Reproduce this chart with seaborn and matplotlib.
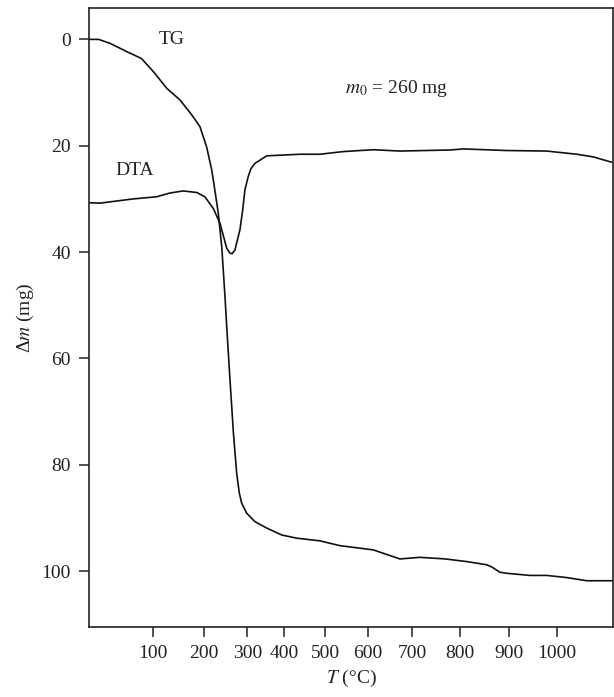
import numpy as np
import pandas as pd
import matplotlib
matplotlib.use("Agg")
import matplotlib.pyplot as plt
import seaborn as sns

# ---- data ----
tg_T = [0, 15, 33, 59, 82, 101, 127, 153, 176, 192, 206, 218, 225, 233, 241, 248.5,
        252, 260, 268, 275.5, 281.5, 287, 298.5, 321, 353, 394, 431, 487, 534, 612,
        672, 716, 769, 814, 855, 865, 882, 896, 944, 979, 1021, 1064, 1120]
tg_m = [0, 0, 0.75, 2.3, 3.6, 6.1, 9.2, 11.4, 14.2, 16.4, 20.2, 24.6, 28.3, 32.7, 39, 48.4,
        53.4, 64, 74.1, 81.6, 85.3, 87.2, 89.1, 90.7, 91.9, 93.2, 93.8, 94.3, 95.2, 96,
        97.7, 97.4, 97.7, 98.2, 98.8, 99.2, 100.2, 100.4, 100.8, 100.8, 101.2, 101.8, 101.8]

dta_T = [0, 17, 69, 107, 133, 159, 186, 202, 221.5, 237, 252.5, 260, 265, 271.5, 283, 289, 294.5,
         302.5, 310, 321, 353, 439, 487, 542, 612, 672, 779, 807, 896, 979, 1043, 1078, 1117]
dta_v = [30.7, 30.8, 30.0, 29.6, 28.9, 28.5, 28.8, 29.6, 31.8, 34.6, 39.3, 40.2, 40.3, 39.6, 35.8, 32.3, 28.3,
         25.8, 24.3, 23.3, 21.9, 21.6, 21.6, 21.1, 20.75, 21.0, 20.8, 20.6, 20.9, 21.0, 21.6, 22.1, 23.1]

x_ticks = [100, 200, 300, 400, 500, 600, 700, 800, 900, 1000]
y_ticks = [0, 20, 40, 60, 80, 100]

# non-uniform temperature axis calibration (temperature -> axis position)
scale_T = [0, 100, 200, 300, 400, 500, 600, 700, 800, 900, 1000, 1120]
scale_P = [0, 64, 115, 158.3, 195, 236.3, 279, 323.3, 371, 419.7, 467.7, 524]

# ---- style ----
sns.set_theme(style="white")
plt.rcParams["font.family"] = ["Liberation Serif", "DejaVu Serif"]
plt.rcParams["mathtext.fontset"] = "stix"
ink = "#222222"
plt.rcParams.update({
    "text.color": ink, "axes.labelcolor": ink,
    "xtick.color": ink, "ytick.color": ink,
    "axes.edgecolor": ink,
})

fig = plt.figure(figsize=(6.14, 6.97), dpi=100)
ax = fig.add_axes([89 / 614, 1 - 627 / 697, (613 - 89) / 614, (627 - 8) / 697])

tg = pd.DataFrame({"T": tg_T, "m": tg_m})
dta = pd.DataFrame({"T": dta_T, "v": dta_v})
sns.lineplot(data=tg, x="T", y="m", ax=ax, color="#111111", lw=1.2, estimator=None, sort=False)
sns.lineplot(data=dta, x="T", y="v", ax=ax, color="#111111", lw=1.2, estimator=None, sort=False)


def fwd(t):
    return np.interp(t, scale_T, scale_P)


def inv(p):
    return np.interp(p, scale_P, scale_T)


ax.set_xscale("function", functions=(fwd, inv))
ax.set_xlim(0, 1120)
ax.set_ylim(110.5, -5.9)
ax.set_xticks(x_ticks)
ax.set_xticklabels([str(v) for v in x_ticks])
ax.set_yticks(y_ticks)
ax.set_yticklabels([str(v) for v in y_ticks])
ax.minorticks_off()

for s in ax.spines.values():
    s.set_visible(True)
    s.set_linewidth(1.2)
    s.set_color(ink)

ax.tick_params(axis="both", which="major", direction="out", length=7, width=1.1,
               labelsize=14, pad=6, bottom=True, left=True, top=False, right=False)

ax.set_xlabel(r"$T$ (°C)", fontsize=14, labelpad=4)
ax.set_ylabel(r"Δ$m$ (mg)", fontsize=14, labelpad=4)

ax.text(137, 0, "TG", fontsize=14, ha="center", va="center")
ax.text(72, 24.7, "DTA", fontsize=14, ha="center", va="center")
ax.text(665, 9.2, r"$m_0$ = 260 mg", fontsize=14, ha="center", va="center")

fig.savefig("out.png", dpi=100)
